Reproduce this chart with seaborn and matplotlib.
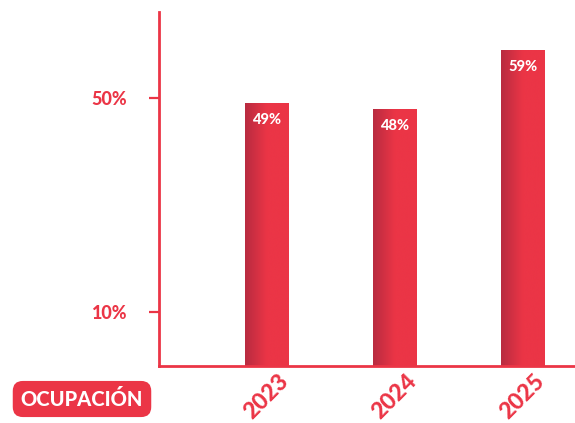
import numpy as np
import pandas as pd
import matplotlib
matplotlib.use('Agg')
import matplotlib.pyplot as plt
from matplotlib.colors import LinearSegmentedColormap
import seaborn as sns

years = ['2023', '2024', '2025']
ocupacion = [49, 48, 59]
bar_labels = ['49%', '48%', '59%']
ytick_values = [10, 50]
ytick_labels = ['10%', '50%']

red = '#EB3546'
dark_red = '#B82B40'

sns.set_style('white')
plt.rcParams['font.family'] = ['Lato', 'DejaVu Sans']

df = pd.DataFrame({'year': years, 'ocupacion': ocupacion})

fig = plt.figure(figsize=(5.75, 4.23), dpi=100)
ax = fig.add_axes([159 / 575, 57 / 423, 1 - 159 / 575, (366 - 12) / 423])

sns.barplot(data=df, x='year', y='ocupacion', color=red, width=0.34,
            saturation=1, ax=ax)

# horizontal gradient on each bar (dark left -> bright right)
cmap = LinearSegmentedColormap.from_list('bar_grad', [dark_red, red, red])
grad = np.linspace(0, 1, 256).reshape(1, -1)
for patch, label in zip(ax.patches, bar_labels):
    x0, y0 = patch.get_x(), patch.get_y()
    w, h = patch.get_width(), patch.get_height()
    im = ax.imshow(grad, cmap=cmap, aspect='auto', extent=[x0, x0 + w, y0, y0 + h],
                   zorder=patch.get_zorder() + 0.1)
    im.set_clip_path(patch)
    ax.text(x0 + w / 2, y0 + h - 3.2, label, ha='center', va='center',
            color='white', fontsize=10.5, fontweight='black', zorder=5)

ax.set_xlim(-0.84, 2.41)
ax.set_ylim(0, 66)
ax.set_xlabel('')
ax.set_ylabel('')
ax.set_yticks(ytick_values)
ax.set_yticklabels(ytick_labels)

for s in ['top', 'right']:
    ax.spines[s].set_visible(False)
for s in ['left', 'bottom']:
    ax.spines[s].set_color(red)
    ax.spines[s].set_linewidth(2)

ax.tick_params(axis='y', length=7, width=1.6, color=red, pad=16,
               labelcolor=red, labelsize=13, left=True)
for t in ax.get_yticklabels():
    t.set_fontweight('black')
ax.tick_params(axis='x', length=0, pad=3, labelcolor=red, labelsize=16.5)
for t in ax.get_xticklabels():
    t.set_rotation(45)
    t.set_ha('center')
    t.set_va('top')
    t.set_fontweight('black')

fig.text(82 / 575, 1 - 399 / 423, 'OCUPACIÓN', ha='center', va='center',
         color='white', fontsize=14.5, fontweight='black',
         bbox=dict(boxstyle='round,pad=0.4,rounding_size=0.5', fc=red, ec='none'))

fig.savefig('out.png', dpi=100)
